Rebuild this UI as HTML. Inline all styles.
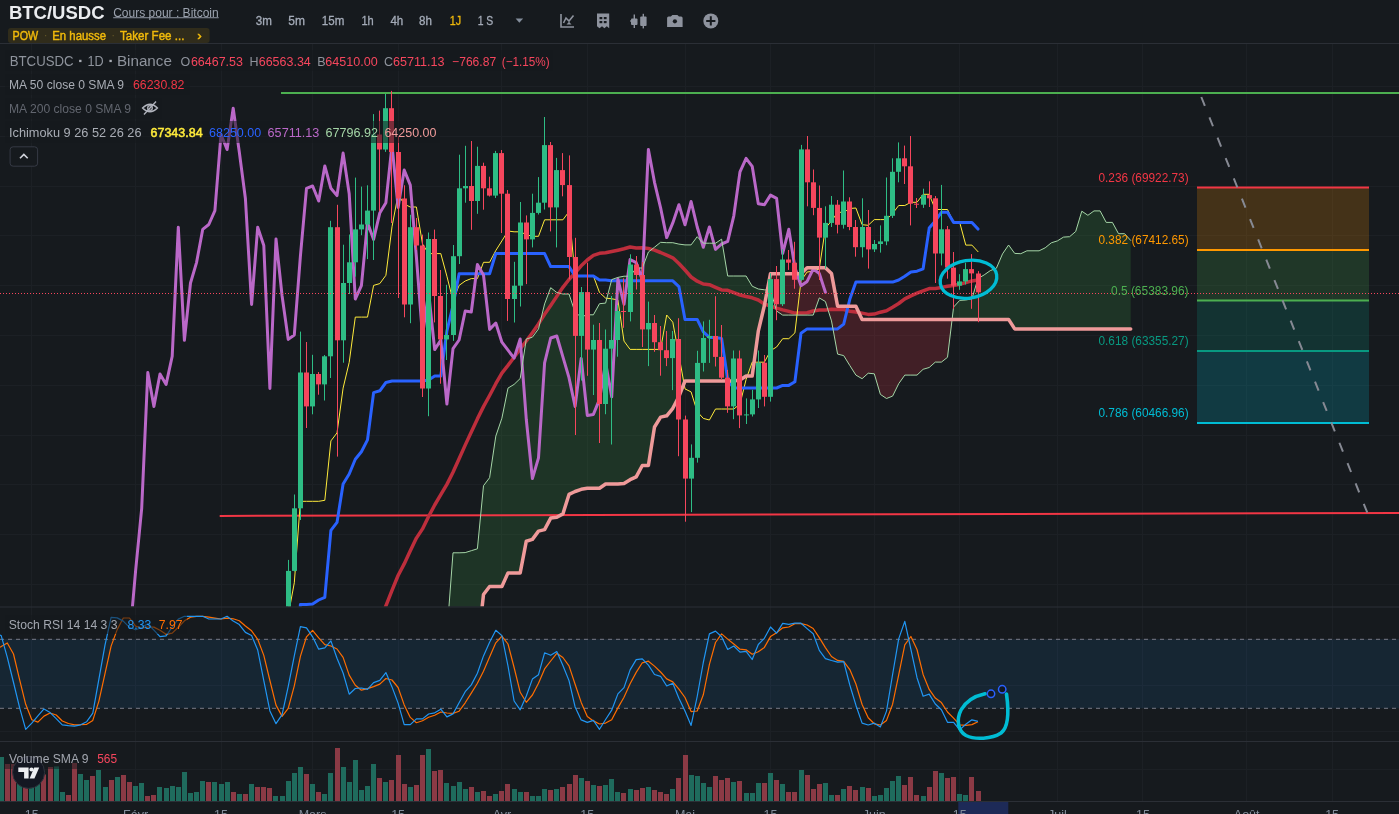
<!DOCTYPE html>
<html><head><meta charset="utf-8"><title>BTC/USDC</title>
<style>html,body{margin:0;padding:0;background:#161a1e;width:1399px;height:814px;overflow:hidden}svg{display:block}</style>
</head><body>
<svg width="1399" height="814" viewBox="0 0 1399 814" font-family="Liberation Sans, Arial, sans-serif">
<rect width="1399" height="814" fill="#161a1e"/>
<g stroke="#1c2025" stroke-width="1"><line x1="31.5" y1="44" x2="31.5" y2="801" /><line x1="135.5" y1="44" x2="135.5" y2="801" /><line x1="221.5" y1="44" x2="221.5" y2="801" /><line x1="312.5" y1="44" x2="312.5" y2="801" /><line x1="398.5" y1="44" x2="398.5" y2="801" /><line x1="501.5" y1="44" x2="501.5" y2="801" /><line x1="587.5" y1="44" x2="587.5" y2="801" /><line x1="685.5" y1="44" x2="685.5" y2="801" /><line x1="770.5" y1="44" x2="770.5" y2="801" /><line x1="874.5" y1="44" x2="874.5" y2="801" /><line x1="959.5" y1="44" x2="959.5" y2="801" /><line x1="1057.5" y1="44" x2="1057.5" y2="801" /><line x1="1142.5" y1="44" x2="1142.5" y2="801" /><line x1="1246.5" y1="44" x2="1246.5" y2="801" /><line x1="1332.5" y1="44" x2="1332.5" y2="801" /><line x1="0" y1="584.5" x2="1399" y2="584.5" /><line x1="0" y1="534.5" x2="1399" y2="534.5" /><line x1="0" y1="484.5" x2="1399" y2="484.5" /><line x1="0" y1="435.5" x2="1399" y2="435.5" /><line x1="0" y1="385.5" x2="1399" y2="385.5" /><line x1="0" y1="335.5" x2="1399" y2="335.5" /><line x1="0" y1="285.5" x2="1399" y2="285.5" /><line x1="0" y1="235.5" x2="1399" y2="235.5" /><line x1="0" y1="186.5" x2="1399" y2="186.5" /><line x1="0" y1="136.5" x2="1399" y2="136.5" /><line x1="0" y1="86.5" x2="1399" y2="86.5" /><line x1="0" y1="639.5" x2="1399" y2="639.5" /><line x1="0" y1="685.5" x2="1399" y2="685.5" /><line x1="0" y1="731.5" x2="1399" y2="731.5" /><line x1="0" y1="769.5" x2="1399" y2="769.5" /></g>
<defs><clipPath id="cm"><rect x="0" y="44" width="1399" height="562.5"/></clipPath><clipPath id="cs"><rect x="0" y="608" width="1399" height="133"/></clipPath><clipPath id="cv"><rect x="0" y="742" width="1399" height="59"/></clipPath></defs>
<g clip-path="url(#cm)">
<polygon points="410.3,710.4 416.4,703.1 422.5,694.2 428.6,693.7 434.7,693.7 440.8,669.1 446.9,634.3 453.0,552.8 459.1,552.8 465.2,552.6 471.3,550.7 477.4,548.8 483.5,485.7 489.6,477.7 495.8,436.1 501.9,418.2 508.0,388.1 514.1,384.4 520.2,378.5 526.3,339.0 532.4,337.2 538.5,328.9 544.6,303.9 550.7,287.7 556.8,292.5 562.9,294.0 569.0,294.0 575.1,312.5 581.2,316.8 587.3,314.8 593.4,314.8 599.5,303.7 605.6,303.1 611.7,279.6 617.9,277.4 624.0,276.2 630.1,276.2 636.2,268.0 642.3,268.0 648.4,252.0 654.5,247.2 660.6,242.3 666.7,242.7 672.8,242.7 678.9,244.1 685.0,244.9 691.1,244.9 697.2,236.7 703.3,243.2 709.4,243.2 715.5,243.2 721.6,239.2 727.7,276.0 733.8,276.0 740.0,276.0 746.1,276.0 752.2,286.2 758.3,289.0 764.4,289.8 767.3,290.1 767.3,290.1 764.4,305.5 758.3,331.2 752.2,376.0 746.1,376.0 740.0,380.0 733.8,381.0 727.7,381.0 721.6,381.0 715.5,381.0 709.4,381.0 703.3,381.0 697.2,381.0 691.1,381.0 685.0,381.0 678.9,396.5 672.8,408.3 666.7,415.8 660.6,417.1 654.5,427.0 648.4,465.5 642.3,465.5 636.2,476.9 630.1,479.7 624.0,483.5 617.9,484.0 611.7,484.0 605.6,484.0 599.5,488.3 593.4,488.3 587.3,488.3 581.2,489.3 575.1,491.5 569.0,494.4 562.9,513.9 556.8,517.3 550.7,518.1 544.6,529.6 538.5,531.1 532.4,539.4 526.3,541.2 520.2,572.9 514.1,572.9 508.0,572.9 501.9,586.5 495.8,586.5 489.6,586.5 483.5,594.5 477.4,649.9 471.3,649.9 465.2,649.9 459.1,649.9 453.0,649.9 446.9,731.4 440.8,764.1 434.7,788.7 428.6,788.7 422.5,788.7 416.4,788.7 410.3,788.7" fill="rgba(67,160,71,0.2)"/>
<polygon points="767.3,290.1 770.5,290.3 776.6,311.0 782.7,315.1 788.8,315.1 794.9,315.1 801.0,315.1 807.1,315.1 813.2,315.1 819.3,297.9 825.4,301.5 831.5,320.9 837.6,354.1 843.7,355.6 849.8,365.5 855.9,375.1 862.1,378.7 868.2,373.2 874.3,373.8 880.4,394.4 886.5,398.5 892.6,396.1 898.7,383.7 904.8,375.1 910.9,375.1 917.0,375.1 923.1,369.3 929.2,367.5 935.3,362.1 941.4,362.1 947.5,357.3 952.1,319.4 952.1,319.4 947.5,319.4 941.4,319.4 935.3,319.4 929.2,319.4 923.1,319.4 917.0,319.4 910.9,319.4 904.8,319.4 898.7,319.4 892.6,319.4 886.5,319.4 880.4,319.4 874.3,319.4 868.2,319.4 862.1,319.4 855.9,306.3 849.8,306.3 843.7,306.3 837.6,306.3 831.5,273.6 825.4,267.7 819.3,267.7 813.2,267.7 807.1,267.7 801.0,273.7 794.9,273.7 788.8,273.7 782.7,273.7 776.6,273.7 770.5,273.7 767.3,290.1" fill="rgba(242,54,69,0.2)"/>
<polygon points="952.1,319.4 953.6,307.0 959.7,300.4 965.8,300.0 971.9,298.8 978.0,278.5 984.2,274.9 990.3,270.6 996.4,268.2 1002.5,253.9 1008.6,245.0 1014.7,253.4 1020.8,253.7 1026.9,250.8 1033.0,250.8 1039.1,250.8 1045.2,247.8 1051.3,242.8 1057.4,240.9 1063.5,237.1 1069.6,236.7 1075.7,231.5 1081.8,211.2 1087.9,215.3 1094.0,210.9 1100.1,210.9 1106.2,222.4 1112.4,222.4 1118.5,233.7 1124.6,233.7 1130.7,240.4 1130.7,328.9 1124.6,328.9 1118.5,328.9 1112.4,328.9 1106.2,328.9 1100.1,328.9 1094.0,328.9 1087.9,328.9 1081.8,328.9 1075.7,328.9 1069.6,328.9 1063.5,328.9 1057.4,328.9 1051.3,328.9 1045.2,328.9 1039.1,328.9 1033.0,328.9 1026.9,328.9 1020.8,328.9 1014.7,328.9 1008.6,319.4 1002.5,319.4 996.4,319.4 990.3,319.4 984.2,319.4 978.0,319.4 971.9,319.4 965.8,319.4 959.7,319.4 953.6,319.4 952.1,319.4" fill="rgba(67,160,71,0.2)"/>
<rect x="1197" y="187.5" width="172" height="62.5" fill="rgba(255,152,0,0.2)"/>
<rect x="1197" y="250.0" width="172" height="50.5" fill="rgba(76,175,80,0.2)"/>
<rect x="1197" y="300.5" width="172" height="50.5" fill="rgba(8,153,129,0.2)"/>
<rect x="1197" y="351.0" width="172" height="71.9" fill="rgba(0,188,212,0.2)"/>
<line x1="1197" y1="187.5" x2="1369" y2="187.5" stroke="#f23645" stroke-width="2"/>
<line x1="1197" y1="250.0" x2="1369" y2="250.0" stroke="#ff9800" stroke-width="2"/>
<line x1="1197" y1="300.5" x2="1369" y2="300.5" stroke="#4caf50" stroke-width="2"/>
<line x1="1197" y1="351.0" x2="1369" y2="351.0" stroke="#089981" stroke-width="2"/>
<line x1="1197" y1="422.9" x2="1369" y2="422.9" stroke="#00bcd4" stroke-width="2"/>
<line x1="219.7" y1="515.9" x2="1399" y2="513.0" stroke="#f23645" stroke-width="2"/>
<line x1="281" y1="92.9" x2="1399" y2="92.9" stroke="#4caf50" stroke-width="2"/>
<polyline points="245.4,816.9 251.6,812.9 257.7,809.5 263.8,805.3 269.9,802.0 276.0,798.3 282.1,794.4 288.2,789.2 294.3,784.1 300.4,776.0 306.5,768.8 312.6,760.8 318.7,751.2 324.8,741.1 330.9,727.9 337.0,717.3 343.1,705.8 349.2,693.8 355.3,680.4 361.4,667.0 367.5,653.4 373.6,638.2 379.8,622.4 385.9,605.8 392.0,590.3 398.1,575.5 404.2,563.9 410.3,550.8 416.4,538.1 422.5,528.9 428.6,516.5 434.7,505.0 440.8,494.7 446.9,484.4 453.0,472.3 459.1,458.7 465.2,445.1 471.3,432.1 477.4,418.9 483.5,406.6 489.6,395.5 495.8,383.7 501.9,373.1 508.0,365.4 514.1,357.3 520.2,348.9 526.3,341.0 532.4,332.7 538.5,323.9 544.6,314.2 550.7,305.5 556.8,296.4 562.9,287.3 569.0,279.5 575.1,272.9 581.2,265.8 587.3,260.0 593.4,255.4 599.5,253.3 605.6,252.8 611.7,251.5 617.9,250.2 624.0,248.8 630.1,247.0 636.2,247.9 642.3,247.7 648.4,248.5 654.5,250.1 660.6,252.5 666.7,255.2 672.8,257.8 678.9,263.5 685.0,270.0 691.1,277.0 697.2,281.2 703.3,284.0 709.4,284.7 715.5,287.3 721.6,289.9 727.7,290.3 733.8,292.6 740.0,295.0 746.1,296.5 752.2,297.8 758.3,300.0 764.4,304.1 770.5,306.0 776.6,308.1 782.7,309.9 788.8,311.4 794.9,313.1 801.0,313.0 807.1,312.8 813.2,311.0 819.3,310.0 825.4,310.0 831.5,309.3 837.6,309.6 843.7,309.5 849.8,311.2 855.9,312.0 862.1,313.1 868.2,314.4 874.3,314.1 880.4,312.2 886.5,310.7 892.6,307.2 898.7,303.5 904.8,298.8 910.9,295.9 917.0,293.2 923.1,290.9 929.2,288.6 935.3,288.4 941.4,287.4 947.5,286.2 953.6,285.5 959.7,284.2 965.8,282.6 971.9,280.9 978.0,280.0" fill="none" stroke="#bd2e3c" stroke-width="3.5" stroke-linejoin="round" stroke-linecap="round" />
<polyline points="-4.9,824.9 1.2,824.9 7.3,811.4 13.5,802.1 19.6,802.1 25.7,802.1 31.8,802.1 37.9,802.1 44.0,802.1 50.1,812.3 56.2,817.3 62.3,848.0 68.4,884.4 74.5,894.7 80.6,905.8 86.7,905.8 92.8,910.5 98.9,913.9 105.0,922.6 111.1,915.0 117.2,909.1 123.3,902.1 129.5,902.1 135.6,890.6 141.7,889.7 147.8,886.4 153.9,866.8 160.0,864.0 166.1,861.7 172.2,854.6 178.3,839.2 184.4,807.0 190.5,802.7 196.6,798.0 202.7,776.2 208.8,775.2 214.9,750.6 221.0,738.1 227.1,726.7 233.2,726.7 239.3,688.2 245.4,678.2 251.6,674.9 257.7,667.4 263.8,655.6 269.9,640.0 276.0,640.0 282.1,640.0 288.2,615.5 294.3,582.8 300.4,501.3 306.5,501.3 312.6,501.3 318.7,501.3 324.8,500.3 330.9,440.9 337.0,432.9 343.1,388.1 349.2,362.4 355.3,317.1 361.4,317.1 367.5,317.1 373.6,285.4 379.8,283.6 385.9,275.3 392.0,226.8 398.1,194.4 404.2,204.1 410.3,207.0 416.4,207.0 422.5,244.0 428.6,253.6 434.7,253.6 440.8,253.6 446.9,276.2 453.0,300.7 459.1,285.4 465.2,281.0 471.3,278.6 477.4,278.6 483.5,262.3 489.6,262.3 495.8,250.5 501.9,240.9 508.0,231.0 514.1,231.8 520.2,231.8 526.3,234.6 532.4,236.3 538.5,236.3 544.6,219.8 550.7,219.8 556.8,219.8 562.9,219.8 569.0,211.7 575.1,276.0 581.2,276.0 587.3,276.0 593.4,276.0 599.5,292.5 605.6,298.1 611.7,298.8 617.9,299.9 624.0,341.1 630.1,349.4 636.2,349.4 642.3,349.4 648.4,349.4 654.5,349.4 660.6,349.4 666.7,315.0 672.8,322.2 678.9,355.2 685.0,388.9 691.1,391.9 697.2,411.6 703.3,418.4 709.4,420.0 715.5,409.0 721.6,409.0 727.7,409.0 733.8,409.0 740.0,404.1 746.1,379.4 752.2,362.2 758.3,362.2 764.4,362.2 770.5,350.7 776.6,347.0 782.7,338.7 788.8,338.7 794.9,332.9 801.0,280.7 807.1,272.0 813.2,271.2 819.3,268.8 825.4,228.1 831.5,221.0 837.6,212.3 843.7,212.3 849.8,208.5 855.9,208.0 862.1,224.7 868.2,225.3 874.3,219.6 880.4,219.6 886.5,219.6 892.6,213.5 898.7,205.5 904.8,205.5 910.9,202.3 917.0,202.3 923.1,194.3 929.2,194.3 935.3,209.5 941.4,209.5 947.5,209.5 953.6,222.4 959.7,222.4 965.8,245.1 971.9,245.1 978.0,251.7" fill="none" stroke="#ffeb3b" stroke-width="1" stroke-linejoin="round" stroke-linecap="round" />
<polyline points="98.9,838.7 105.0,838.7 111.1,838.7 117.2,838.7 123.3,838.7 129.5,838.7 135.6,838.7 141.7,838.7 147.8,838.7 153.9,838.7 160.0,838.7 166.1,869.4 172.2,896.0 178.3,880.5 184.4,848.3 190.5,848.3 196.6,843.6 202.7,821.8 208.8,821.3 214.9,800.5 221.0,790.8 227.1,790.8 233.2,790.8 239.3,779.3 245.4,778.5 251.6,773.0 257.7,753.4 263.8,750.6 269.9,748.3 276.0,747.3 282.1,747.3 288.2,722.8 294.3,685.8 300.4,604.4 306.5,604.4 312.6,603.9 318.7,600.0 324.8,597.3 330.9,530.4 337.0,522.4 343.1,484.0 349.2,474.0 355.3,459.2 361.4,451.7 367.5,439.9 373.6,392.6 379.8,390.8 385.9,382.5 392.0,381.0 398.1,381.0 404.2,381.0 410.3,381.0 416.4,381.0 422.5,381.0 428.6,380.0 434.7,376.0 440.8,376.0 446.9,331.2 453.0,305.5 459.1,273.7 465.2,273.7 471.3,273.7 477.4,273.7 483.5,273.7 489.6,273.7 495.8,253.6 501.9,253.6 508.0,253.6 514.1,253.6 520.2,253.6 526.3,253.6 532.4,253.6 538.5,253.6 544.6,253.6 550.7,266.6 556.8,266.6 562.9,266.6 569.0,266.6 575.1,276.0 581.2,276.0 587.3,276.0 593.4,276.0 599.5,280.0 605.6,280.0 611.7,280.8 617.9,280.8 624.0,280.8 630.1,280.8 636.2,280.8 642.3,280.8 648.4,280.8 654.5,280.8 660.6,280.8 666.7,280.8 672.8,280.8 678.9,286.6 685.0,319.4 691.1,319.4 697.2,319.4 703.3,331.8 709.4,337.4 715.5,337.4 721.6,338.5 727.7,379.8 733.8,388.0 740.0,388.0 746.1,388.0 752.2,388.0 758.3,388.0 764.4,388.0 770.5,388.0 776.6,388.0 782.7,385.4 788.8,385.4 794.9,381.8 801.0,333.3 807.1,328.9 813.2,328.9 819.3,328.9 825.4,328.9 831.5,328.9 837.6,328.9 843.7,324.1 849.8,299.3 855.9,282.1 862.1,282.1 868.2,282.1 874.3,282.1 880.4,282.1 886.5,282.1 892.6,282.1 898.7,280.0 904.8,276.3 910.9,272.0 917.0,271.2 923.1,268.8 929.2,228.1 935.3,221.0 941.4,212.3 947.5,212.3 953.6,222.4 959.7,222.4 965.8,222.4 971.9,222.4 978.0,229.1" fill="none" stroke="#2962ff" stroke-width="3" stroke-linejoin="round" stroke-linecap="round" />
<polyline points="-206.3,828.4 -200.2,808.9 -194.1,861.5 -188.0,829.1 -181.9,828.9 -175.8,833.6 -169.7,834.6 -163.6,758.9 -157.5,780.1 -151.4,766.6 -145.3,774.6 -139.2,863.2 -133.1,861.7 -127.0,889.4 -120.9,869.9 -114.8,854.0 -108.6,864.2 -102.5,901.1 -96.4,892.1 -90.3,891.1 -84.2,893.1 -78.1,943.1 -72.0,934.9 -65.9,930.4 -59.8,933.9 -53.7,887.1 -47.6,879.6 -41.5,881.9 -35.4,850.3 -29.3,859.0 -23.2,868.2 -17.1,855.7 -11.0,853.0 -4.9,857.7 1.2,868.2 7.3,865.0 13.5,855.5 19.6,824.4 25.7,800.7 31.8,754.9 37.9,739.0 44.0,726.0 50.1,684.5 56.2,690.9 62.3,638.7 68.4,635.7 74.5,630.5 80.6,642.6 86.7,630.2 92.8,639.2 98.9,627.2 105.0,637.7 111.1,651.1 117.2,665.3 123.3,644.4 129.5,640.4 135.6,570.9 141.7,508.3 147.8,372.5 153.9,406.4 160.0,374.0 166.1,384.4 172.2,356.3 178.3,227.2 184.4,340.3 190.5,283.0 196.6,262.3 202.7,229.4 208.8,224.5 214.9,210.6 221.0,134.5 227.1,149.5 233.2,108.2 239.3,152.0 245.4,198.5 251.6,304.5 257.7,227.2 263.8,245.5 269.9,388.5 276.0,239.0 282.1,296.0 288.2,339.4 294.3,335.0 300.4,256.2 306.5,188.3 312.6,186.0 318.7,201.0 324.8,165.9 330.9,188.3 337.0,195.6 343.1,153.1 349.2,193.7 355.3,299.0 361.4,285.7 367.5,222.5 373.6,239.4 379.8,212.9 385.9,202.7 392.0,145.1 398.1,207.4 404.2,170.1 410.3,185.1 416.4,257.0 422.5,335.9 428.6,292.1 434.7,349.6 440.8,340.0 446.9,404.0 453.0,348.7 459.1,340.0 465.2,311.0 471.3,312.0 477.4,264.5 483.5,275.0 489.6,329.4 495.8,323.0 501.9,342.2 508.0,350.2 514.1,358.1 520.2,339.0 526.3,419.5 532.4,478.6 538.5,457.8 544.6,362.9 550.7,338.0 556.8,336.0 562.9,356.9 569.0,377.7 575.1,406.4 581.2,358.5 587.3,415.4 593.4,414.4 599.5,399.4 605.6,362.7 611.7,396.8 617.9,279.1 624.0,304.2 630.1,259.5 636.2,262.7 642.3,279.8 648.4,149.4 654.5,182.3 660.6,207.9 666.7,237.6 672.8,222.9 678.9,204.7 685.0,224.8 691.1,201.5 697.2,227.0 703.3,247.2 709.4,227.0 715.5,249.4 721.6,244.0 727.7,241.4 733.8,215.8 740.0,171.8 746.1,158.3 752.2,166.3 758.3,203.7 764.4,204.7 770.5,195.1 776.6,198.3 782.7,253.5 788.8,229.3 794.9,267.6 801.0,285.7 807.1,281.4 813.2,269.1 819.3,273.4 825.4,292.3" fill="none" stroke="#ba68c8" stroke-width="3" stroke-linejoin="round" stroke-linecap="round" />
<polyline points="251.6,876.3 257.7,880.6 263.8,876.8 269.9,873.9 276.0,870.4 282.1,870.4 288.2,864.6 294.3,864.2 300.4,862.5 306.5,852.8 312.6,851.3 318.7,865.6 324.8,875.3 330.9,859.9 337.0,827.6 343.1,825.5 349.2,820.8 355.3,799.0 361.4,798.2 367.5,775.5 373.6,764.4 379.8,758.7 385.9,758.7 392.0,733.8 398.1,728.3 404.2,723.9 410.3,710.4 416.4,703.1 422.5,694.2 428.6,693.7 434.7,693.7 440.8,669.1 446.9,634.3 453.0,552.8 459.1,552.8 465.2,552.6 471.3,550.7 477.4,548.8 483.5,485.7 489.6,477.7 495.8,436.1 501.9,418.2 508.0,388.1 514.1,384.4 520.2,378.5 526.3,339.0 532.4,337.2 538.5,328.9 544.6,303.9 550.7,287.7 556.8,292.5 562.9,294.0 569.0,294.0 575.1,312.5 581.2,316.8 587.3,314.8 593.4,314.8 599.5,303.7 605.6,303.1 611.7,279.6 617.9,277.4 624.0,276.2 630.1,276.2 636.2,268.0 642.3,268.0 648.4,252.0 654.5,247.2 660.6,242.3 666.7,242.7 672.8,242.7 678.9,244.1 685.0,244.9 691.1,244.9 697.2,236.7 703.3,243.2 709.4,243.2 715.5,243.2 721.6,239.2 727.7,276.0 733.8,276.0 740.0,276.0 746.1,276.0 752.2,286.2 758.3,289.0 764.4,289.8 770.5,290.3 776.6,311.0 782.7,315.1 788.8,315.1 794.9,315.1 801.0,315.1 807.1,315.1 813.2,315.1 819.3,297.9 825.4,301.5 831.5,320.9 837.6,354.1 843.7,355.6 849.8,365.5 855.9,375.1 862.1,378.7 868.2,373.2 874.3,373.8 880.4,394.4 886.5,398.5 892.6,396.1 898.7,383.7 904.8,375.1 910.9,375.1 917.0,375.1 923.1,369.3 929.2,367.5 935.3,362.1 941.4,362.1 947.5,357.3 953.6,307.0 959.7,300.4 965.8,300.0 971.9,298.8 978.0,278.5 984.2,274.9 990.3,270.6 996.4,268.2 1002.5,253.9 1008.6,245.0 1014.7,253.4 1020.8,253.7 1026.9,250.8 1033.0,250.8 1039.1,250.8 1045.2,247.8 1051.3,242.8 1057.4,240.9 1063.5,237.1 1069.6,236.7 1075.7,231.5 1081.8,211.2 1087.9,215.3 1094.0,210.9 1100.1,210.9 1106.2,222.4 1112.4,222.4 1118.5,233.7 1124.6,233.7 1130.7,240.4" fill="none" stroke="#a5d6a7" stroke-width="1" stroke-linejoin="round" stroke-linecap="round" />
<polyline points="410.3,788.7 416.4,788.7 422.5,788.7 428.6,788.7 434.7,788.7 440.8,764.1 446.9,731.4 453.0,649.9 459.1,649.9 465.2,649.9 471.3,649.9 477.4,649.9 483.5,594.5 489.6,586.5 495.8,586.5 501.9,586.5 508.0,572.9 514.1,572.9 520.2,572.9 526.3,541.2 532.4,539.4 538.5,531.1 544.6,529.6 550.7,518.1 556.8,517.3 562.9,513.9 569.0,494.4 575.1,491.5 581.2,489.3 587.3,488.3 593.4,488.3 599.5,488.3 605.6,484.0 611.7,484.0 617.9,484.0 624.0,483.5 630.1,479.7 636.2,476.9 642.3,465.5 648.4,465.5 654.5,427.0 660.6,417.1 666.7,415.8 672.8,408.3 678.9,396.5 685.0,381.0 691.1,381.0 697.2,381.0 703.3,381.0 709.4,381.0 715.5,381.0 721.6,381.0 727.7,381.0 733.8,381.0 740.0,380.0 746.1,376.0 752.2,376.0 758.3,331.2 764.4,305.5 770.5,273.7 776.6,273.7 782.7,273.7 788.8,273.7 794.9,273.7 801.0,273.7 807.1,267.7 813.2,267.7 819.3,267.7 825.4,267.7 831.5,273.6 837.6,306.3 843.7,306.3 849.8,306.3 855.9,306.3 862.1,319.4 868.2,319.4 874.3,319.4 880.4,319.4 886.5,319.4 892.6,319.4 898.7,319.4 904.8,319.4 910.9,319.4 917.0,319.4 923.1,319.4 929.2,319.4 935.3,319.4 941.4,319.4 947.5,319.4 953.6,319.4 959.7,319.4 965.8,319.4 971.9,319.4 978.0,319.4 984.2,319.4 990.3,319.4 996.4,319.4 1002.5,319.4 1008.6,319.4 1014.7,328.9 1020.8,328.9 1026.9,328.9 1033.0,328.9 1039.1,328.9 1045.2,328.9 1051.3,328.9 1057.4,328.9 1063.5,328.9 1069.6,328.9 1075.7,328.9 1081.8,328.9 1087.9,328.9 1094.0,328.9 1100.1,328.9 1106.2,328.9 1112.4,328.9 1118.5,328.9 1124.6,328.9 1130.7,328.9" fill="none" stroke="#ef9a9a" stroke-width="3.5" stroke-linejoin="round" stroke-linecap="round" />
<rect x="-54" y="828.37" width="1" height="49.29" fill="#2ebd85"/>
<rect x="-56" y="828.37" width="5" height="47.30" fill="#2ebd85"/>
<rect x="-48" y="786.04" width="1" height="43.07" fill="#2ebd85"/>
<rect x="-50" y="808.95" width="5" height="19.42" fill="#2ebd85"/>
<rect x="-42" y="795.50" width="1" height="118.25" fill="#f6465d"/>
<rect x="-44" y="808.95" width="5" height="52.53" fill="#f6465d"/>
<rect x="-36" y="814.67" width="1" height="52.53" fill="#2ebd85"/>
<rect x="-38" y="829.11" width="5" height="32.36" fill="#2ebd85"/>
<rect x="-30" y="824.38" width="1" height="45.81" fill="#2ebd85"/>
<rect x="-32" y="828.86" width="5" height="1.00" fill="#2ebd85"/>
<rect x="-24" y="827.12" width="1" height="20.66" fill="#f6465d"/>
<rect x="-26" y="828.86" width="5" height="4.73" fill="#f6465d"/>
<rect x="-18" y="820.40" width="1" height="23.15" fill="#f6465d"/>
<rect x="-20" y="833.59" width="5" height="1.00" fill="#f6465d"/>
<rect x="-11" y="751.94" width="1" height="100.82" fill="#2ebd85"/>
<rect x="-13" y="758.91" width="5" height="75.68" fill="#2ebd85"/>
<rect x="-5" y="736.00" width="1" height="89.37" fill="#f6465d"/>
<rect x="-7" y="758.91" width="5" height="21.16" fill="#f6465d"/>
<rect x="1" y="740.73" width="1" height="83.40" fill="#2ebd85"/>
<rect x="-1" y="766.63" width="5" height="13.44" fill="#2ebd85"/>
<rect x="7" y="709.12" width="1" height="83.90" fill="#f6465d"/>
<rect x="5" y="766.63" width="5" height="7.97" fill="#f6465d"/>
<rect x="13" y="770.61" width="1" height="124.48" fill="#f6465d"/>
<rect x="11" y="774.59" width="5" height="88.63" fill="#f6465d"/>
<rect x="19" y="851.27" width="1" height="20.41" fill="#2ebd85"/>
<rect x="17" y="861.72" width="5" height="1.49" fill="#2ebd85"/>
<rect x="25" y="856.00" width="1" height="33.61" fill="#f6465d"/>
<rect x="23" y="861.72" width="5" height="27.63" fill="#f6465d"/>
<rect x="31" y="847.78" width="1" height="42.32" fill="#2ebd85"/>
<rect x="29" y="869.94" width="5" height="19.42" fill="#2ebd85"/>
<rect x="37" y="843.30" width="1" height="38.09" fill="#2ebd85"/>
<rect x="35" y="854.01" width="5" height="15.93" fill="#2ebd85"/>
<rect x="43" y="852.76" width="1" height="24.89" fill="#f6465d"/>
<rect x="41" y="854.01" width="5" height="10.21" fill="#f6465d"/>
<rect x="50" y="859.48" width="1" height="56.01" fill="#f6465d"/>
<rect x="48" y="864.21" width="5" height="36.84" fill="#f6465d"/>
<rect x="56" y="877.66" width="1" height="47.80" fill="#2ebd85"/>
<rect x="54" y="892.10" width="5" height="8.96" fill="#2ebd85"/>
<rect x="62" y="885.87" width="1" height="10.46" fill="#2ebd85"/>
<rect x="60" y="891.10" width="5" height="1.00" fill="#2ebd85"/>
<rect x="68" y="886.12" width="1" height="8.96" fill="#f6465d"/>
<rect x="66" y="891.10" width="5" height="1.99" fill="#f6465d"/>
<rect x="74" y="890.85" width="1" height="55.27" fill="#f6465d"/>
<rect x="72" y="893.09" width="5" height="50.04" fill="#f6465d"/>
<rect x="80" y="929.19" width="1" height="39.09" fill="#2ebd85"/>
<rect x="78" y="934.92" width="5" height="8.22" fill="#2ebd85"/>
<rect x="86" y="919.98" width="1" height="25.39" fill="#2ebd85"/>
<rect x="84" y="930.43" width="5" height="4.48" fill="#2ebd85"/>
<rect x="92" y="924.96" width="1" height="18.67" fill="#f6465d"/>
<rect x="90" y="930.43" width="5" height="3.49" fill="#f6465d"/>
<rect x="98" y="876.91" width="1" height="60.00" fill="#2ebd85"/>
<rect x="96" y="887.12" width="5" height="46.80" fill="#2ebd85"/>
<rect x="105" y="877.66" width="1" height="20.16" fill="#2ebd85"/>
<rect x="103" y="879.65" width="5" height="7.47" fill="#2ebd85"/>
<rect x="111" y="861.72" width="1" height="30.37" fill="#f6465d"/>
<rect x="109" y="879.65" width="5" height="2.24" fill="#f6465d"/>
<rect x="117" y="850.02" width="1" height="37.59" fill="#2ebd85"/>
<rect x="115" y="850.27" width="5" height="31.62" fill="#2ebd85"/>
<rect x="123" y="835.83" width="1" height="29.87" fill="#f6465d"/>
<rect x="121" y="850.27" width="5" height="8.71" fill="#f6465d"/>
<rect x="129" y="839.32" width="1" height="36.35" fill="#f6465d"/>
<rect x="127" y="858.99" width="5" height="9.21" fill="#f6465d"/>
<rect x="135" y="850.52" width="1" height="35.10" fill="#2ebd85"/>
<rect x="133" y="855.75" width="5" height="12.45" fill="#2ebd85"/>
<rect x="141" y="845.54" width="1" height="23.15" fill="#2ebd85"/>
<rect x="139" y="853.01" width="5" height="2.74" fill="#2ebd85"/>
<rect x="147" y="848.28" width="1" height="12.45" fill="#f6465d"/>
<rect x="145" y="853.01" width="5" height="4.73" fill="#f6465d"/>
<rect x="153" y="854.75" width="1" height="22.41" fill="#f6465d"/>
<rect x="151" y="857.74" width="5" height="10.46" fill="#f6465d"/>
<rect x="159" y="844.30" width="1" height="31.87" fill="#2ebd85"/>
<rect x="157" y="864.96" width="5" height="3.24" fill="#2ebd85"/>
<rect x="166" y="847.78" width="1" height="20.66" fill="#2ebd85"/>
<rect x="164" y="855.50" width="5" height="9.46" fill="#2ebd85"/>
<rect x="172" y="823.64" width="1" height="39.33" fill="#2ebd85"/>
<rect x="170" y="824.38" width="5" height="31.12" fill="#2ebd85"/>
<rect x="178" y="792.77" width="1" height="31.87" fill="#2ebd85"/>
<rect x="176" y="800.73" width="5" height="23.65" fill="#2ebd85"/>
<rect x="184" y="728.29" width="1" height="111.80" fill="#2ebd85"/>
<rect x="182" y="754.93" width="5" height="45.81" fill="#2ebd85"/>
<rect x="190" y="729.03" width="1" height="34.11" fill="#2ebd85"/>
<rect x="188" y="738.99" width="5" height="15.93" fill="#2ebd85"/>
<rect x="196" y="718.83" width="1" height="24.40" fill="#2ebd85"/>
<rect x="194" y="726.05" width="5" height="12.95" fill="#2ebd85"/>
<rect x="202" y="675.26" width="1" height="65.47" fill="#2ebd85"/>
<rect x="200" y="684.47" width="5" height="41.57" fill="#2ebd85"/>
<rect x="208" y="674.27" width="1" height="51.53" fill="#f6465d"/>
<rect x="206" y="684.47" width="5" height="6.47" fill="#f6465d"/>
<rect x="214" y="632.69" width="1" height="69.46" fill="#2ebd85"/>
<rect x="212" y="638.67" width="5" height="52.28" fill="#2ebd85"/>
<rect x="221" y="613.27" width="1" height="37.34" fill="#2ebd85"/>
<rect x="219" y="635.68" width="5" height="2.99" fill="#2ebd85"/>
<rect x="227" y="619.50" width="1" height="24.65" fill="#2ebd85"/>
<rect x="225" y="630.45" width="5" height="5.23" fill="#2ebd85"/>
<rect x="233" y="628.96" width="1" height="39.09" fill="#f6465d"/>
<rect x="231" y="630.45" width="5" height="12.20" fill="#f6465d"/>
<rect x="239" y="624.72" width="1" height="29.63" fill="#2ebd85"/>
<rect x="237" y="630.20" width="5" height="12.45" fill="#2ebd85"/>
<rect x="245" y="621.49" width="1" height="20.16" fill="#f6465d"/>
<rect x="243" y="630.20" width="5" height="8.96" fill="#f6465d"/>
<rect x="251" y="609.04" width="1" height="61.49" fill="#2ebd85"/>
<rect x="249" y="627.21" width="5" height="11.95" fill="#2ebd85"/>
<rect x="257" y="624.48" width="1" height="43.32" fill="#f6465d"/>
<rect x="255" y="627.21" width="5" height="10.46" fill="#f6465d"/>
<rect x="263" y="633.19" width="1" height="27.14" fill="#f6465d"/>
<rect x="261" y="637.67" width="5" height="13.44" fill="#f6465d"/>
<rect x="269" y="644.89" width="1" height="26.14" fill="#f6465d"/>
<rect x="267" y="651.11" width="5" height="14.19" fill="#f6465d"/>
<rect x="275" y="641.15" width="1" height="27.88" fill="#2ebd85"/>
<rect x="273" y="644.39" width="5" height="20.91" fill="#2ebd85"/>
<rect x="282" y="634.93" width="1" height="16.68" fill="#2ebd85"/>
<rect x="280" y="640.41" width="5" height="3.98" fill="#2ebd85"/>
<rect x="288" y="559.90" width="1" height="101.17" fill="#2ebd85"/>
<rect x="286" y="570.90" width="5" height="69.10" fill="#2ebd85"/>
<rect x="294" y="494.50" width="1" height="77.00" fill="#2ebd85"/>
<rect x="292" y="508.30" width="5" height="62.60" fill="#2ebd85"/>
<rect x="300" y="331.60" width="1" height="188.40" fill="#2ebd85"/>
<rect x="298" y="372.50" width="5" height="135.80" fill="#2ebd85"/>
<rect x="306" y="342.00" width="1" height="86.00" fill="#f6465d"/>
<rect x="304" y="372.50" width="5" height="33.90" fill="#f6465d"/>
<rect x="312" y="354.80" width="1" height="59.50" fill="#2ebd85"/>
<rect x="310" y="374.00" width="5" height="32.40" fill="#2ebd85"/>
<rect x="318" y="372.00" width="1" height="22.70" fill="#f6465d"/>
<rect x="316" y="374.00" width="5" height="10.40" fill="#f6465d"/>
<rect x="324" y="355.00" width="1" height="45.50" fill="#2ebd85"/>
<rect x="322" y="356.30" width="5" height="28.10" fill="#2ebd85"/>
<rect x="330" y="220.80" width="1" height="157.20" fill="#2ebd85"/>
<rect x="328" y="227.20" width="5" height="129.10" fill="#2ebd85"/>
<rect x="337" y="204.80" width="1" height="251.80" fill="#f6465d"/>
<rect x="335" y="227.20" width="5" height="113.10" fill="#f6465d"/>
<rect x="343" y="244.70" width="1" height="118.00" fill="#2ebd85"/>
<rect x="341" y="283.00" width="5" height="57.30" fill="#2ebd85"/>
<rect x="349" y="234.50" width="1" height="59.50" fill="#2ebd85"/>
<rect x="347" y="262.30" width="5" height="20.70" fill="#2ebd85"/>
<rect x="355" y="177.60" width="1" height="99.10" fill="#2ebd85"/>
<rect x="353" y="229.40" width="5" height="32.90" fill="#2ebd85"/>
<rect x="361" y="186.60" width="1" height="48.60" fill="#2ebd85"/>
<rect x="359" y="224.50" width="5" height="4.90" fill="#2ebd85"/>
<rect x="367" y="185.30" width="1" height="73.80" fill="#2ebd85"/>
<rect x="365" y="210.60" width="5" height="13.90" fill="#2ebd85"/>
<rect x="373" y="114.10" width="1" height="145.90" fill="#2ebd85"/>
<rect x="371" y="134.50" width="5" height="76.10" fill="#2ebd85"/>
<rect x="379" y="110.60" width="1" height="100.40" fill="#f6465d"/>
<rect x="377" y="134.50" width="5" height="15.00" fill="#f6465d"/>
<rect x="385" y="93.90" width="1" height="58.00" fill="#2ebd85"/>
<rect x="383" y="108.20" width="5" height="41.30" fill="#2ebd85"/>
<rect x="391" y="90.90" width="1" height="132.10" fill="#f6465d"/>
<rect x="389" y="108.20" width="5" height="43.80" fill="#f6465d"/>
<rect x="398" y="136.20" width="1" height="161.80" fill="#f6465d"/>
<rect x="396" y="152.00" width="5" height="46.50" fill="#f6465d"/>
<rect x="404" y="185.30" width="1" height="132.00" fill="#f6465d"/>
<rect x="402" y="198.50" width="5" height="106.00" fill="#f6465d"/>
<rect x="410" y="214.80" width="1" height="108.40" fill="#2ebd85"/>
<rect x="408" y="227.20" width="5" height="77.30" fill="#2ebd85"/>
<rect x="416" y="218.00" width="1" height="32.00" fill="#f6465d"/>
<rect x="414" y="227.20" width="5" height="18.30" fill="#f6465d"/>
<rect x="422" y="234.60" width="1" height="162.40" fill="#f6465d"/>
<rect x="420" y="245.50" width="5" height="143.00" fill="#f6465d"/>
<rect x="428" y="232.50" width="1" height="183.70" fill="#2ebd85"/>
<rect x="426" y="239.00" width="5" height="149.50" fill="#2ebd85"/>
<rect x="434" y="229.60" width="1" height="92.80" fill="#f6465d"/>
<rect x="432" y="239.00" width="5" height="57.00" fill="#f6465d"/>
<rect x="440" y="270.00" width="1" height="113.70" fill="#f6465d"/>
<rect x="438" y="296.00" width="5" height="43.40" fill="#f6465d"/>
<rect x="446" y="284.80" width="1" height="75.20" fill="#2ebd85"/>
<rect x="444" y="335.00" width="5" height="4.40" fill="#2ebd85"/>
<rect x="453" y="245.00" width="1" height="95.90" fill="#2ebd85"/>
<rect x="451" y="256.20" width="5" height="78.80" fill="#2ebd85"/>
<rect x="459" y="154.70" width="1" height="109.30" fill="#2ebd85"/>
<rect x="457" y="188.30" width="5" height="67.90" fill="#2ebd85"/>
<rect x="465" y="145.80" width="1" height="56.90" fill="#2ebd85"/>
<rect x="463" y="186.00" width="5" height="2.30" fill="#2ebd85"/>
<rect x="471" y="141.00" width="1" height="88.80" fill="#f6465d"/>
<rect x="469" y="186.00" width="5" height="15.00" fill="#f6465d"/>
<rect x="477" y="146.70" width="1" height="67.10" fill="#2ebd85"/>
<rect x="475" y="165.90" width="5" height="35.10" fill="#2ebd85"/>
<rect x="483" y="162.70" width="1" height="47.00" fill="#f6465d"/>
<rect x="481" y="165.90" width="5" height="22.40" fill="#f6465d"/>
<rect x="489" y="176.70" width="1" height="19.80" fill="#f6465d"/>
<rect x="487" y="188.30" width="5" height="7.30" fill="#f6465d"/>
<rect x="495" y="150.90" width="1" height="47.10" fill="#2ebd85"/>
<rect x="493" y="153.10" width="5" height="42.50" fill="#2ebd85"/>
<rect x="501" y="150.00" width="1" height="83.00" fill="#f6465d"/>
<rect x="499" y="153.10" width="5" height="40.60" fill="#f6465d"/>
<rect x="507" y="190.00" width="1" height="130.90" fill="#f6465d"/>
<rect x="505" y="193.70" width="5" height="105.30" fill="#f6465d"/>
<rect x="514" y="261.80" width="1" height="60.70" fill="#2ebd85"/>
<rect x="512" y="285.70" width="5" height="13.30" fill="#2ebd85"/>
<rect x="520" y="202.00" width="1" height="104.50" fill="#2ebd85"/>
<rect x="518" y="222.50" width="5" height="63.20" fill="#2ebd85"/>
<rect x="526" y="215.40" width="1" height="68.70" fill="#f6465d"/>
<rect x="524" y="222.50" width="5" height="16.90" fill="#f6465d"/>
<rect x="532" y="193.70" width="1" height="53.70" fill="#2ebd85"/>
<rect x="530" y="212.90" width="5" height="26.50" fill="#2ebd85"/>
<rect x="538" y="177.10" width="1" height="37.40" fill="#2ebd85"/>
<rect x="536" y="202.70" width="5" height="10.20" fill="#2ebd85"/>
<rect x="544" y="117.00" width="1" height="92.50" fill="#2ebd85"/>
<rect x="542" y="145.10" width="5" height="57.60" fill="#2ebd85"/>
<rect x="550" y="142.00" width="1" height="89.40" fill="#f6465d"/>
<rect x="548" y="145.10" width="5" height="62.30" fill="#f6465d"/>
<rect x="556" y="157.90" width="1" height="89.50" fill="#2ebd85"/>
<rect x="554" y="170.10" width="5" height="37.30" fill="#2ebd85"/>
<rect x="562" y="153.10" width="1" height="43.20" fill="#f6465d"/>
<rect x="560" y="170.10" width="5" height="15.00" fill="#f6465d"/>
<rect x="569" y="155.40" width="1" height="123.90" fill="#f6465d"/>
<rect x="567" y="185.10" width="5" height="71.90" fill="#f6465d"/>
<rect x="575" y="237.80" width="1" height="197.20" fill="#f6465d"/>
<rect x="573" y="257.00" width="5" height="78.90" fill="#f6465d"/>
<rect x="581" y="287.00" width="1" height="93.60" fill="#2ebd85"/>
<rect x="579" y="292.10" width="5" height="43.80" fill="#2ebd85"/>
<rect x="587" y="262.70" width="1" height="113.10" fill="#f6465d"/>
<rect x="585" y="292.10" width="5" height="57.50" fill="#f6465d"/>
<rect x="593" y="324.70" width="1" height="70.30" fill="#2ebd85"/>
<rect x="591" y="340.00" width="5" height="9.60" fill="#2ebd85"/>
<rect x="599" y="323.00" width="1" height="120.00" fill="#f6465d"/>
<rect x="597" y="340.00" width="5" height="64.00" fill="#f6465d"/>
<rect x="605" y="329.50" width="1" height="84.70" fill="#2ebd85"/>
<rect x="603" y="348.70" width="5" height="55.30" fill="#2ebd85"/>
<rect x="611" y="296.00" width="1" height="148.50" fill="#2ebd85"/>
<rect x="609" y="340.00" width="5" height="8.70" fill="#2ebd85"/>
<rect x="617" y="305.00" width="1" height="51.70" fill="#2ebd85"/>
<rect x="615" y="311.00" width="5" height="29.00" fill="#2ebd85"/>
<rect x="623" y="278.30" width="1" height="49.50" fill="#f6465d"/>
<rect x="621" y="311.00" width="5" height="1.00" fill="#f6465d"/>
<rect x="630" y="254.30" width="1" height="67.10" fill="#2ebd85"/>
<rect x="628" y="264.50" width="5" height="47.50" fill="#2ebd85"/>
<rect x="636" y="256.00" width="1" height="33.50" fill="#f6465d"/>
<rect x="634" y="264.50" width="5" height="10.50" fill="#f6465d"/>
<rect x="642" y="262.00" width="1" height="85.00" fill="#f6465d"/>
<rect x="640" y="275.00" width="5" height="54.40" fill="#f6465d"/>
<rect x="648" y="301.60" width="1" height="64.50" fill="#2ebd85"/>
<rect x="646" y="323.00" width="5" height="6.40" fill="#2ebd85"/>
<rect x="654" y="315.00" width="1" height="36.80" fill="#f6465d"/>
<rect x="652" y="323.00" width="5" height="19.20" fill="#f6465d"/>
<rect x="660" y="326.00" width="1" height="49.70" fill="#f6465d"/>
<rect x="658" y="342.20" width="5" height="8.00" fill="#f6465d"/>
<rect x="666" y="331.00" width="1" height="35.10" fill="#f6465d"/>
<rect x="664" y="350.20" width="5" height="7.90" fill="#f6465d"/>
<rect x="672" y="331.00" width="1" height="59.10" fill="#2ebd85"/>
<rect x="670" y="339.00" width="5" height="19.10" fill="#2ebd85"/>
<rect x="678" y="318.20" width="1" height="138.00" fill="#f6465d"/>
<rect x="676" y="339.00" width="5" height="80.50" fill="#f6465d"/>
<rect x="685" y="415.60" width="1" height="106.10" fill="#f6465d"/>
<rect x="683" y="419.50" width="5" height="59.10" fill="#f6465d"/>
<rect x="691" y="444.40" width="1" height="67.70" fill="#2ebd85"/>
<rect x="689" y="457.80" width="5" height="20.80" fill="#2ebd85"/>
<rect x="697" y="350.80" width="1" height="111.80" fill="#2ebd85"/>
<rect x="695" y="362.90" width="5" height="94.90" fill="#2ebd85"/>
<rect x="703" y="321.40" width="1" height="50.10" fill="#2ebd85"/>
<rect x="701" y="338.00" width="5" height="24.90" fill="#2ebd85"/>
<rect x="709" y="319.80" width="1" height="43.10" fill="#2ebd85"/>
<rect x="707" y="336.00" width="5" height="2.00" fill="#2ebd85"/>
<rect x="715" y="296.20" width="1" height="70.30" fill="#f6465d"/>
<rect x="713" y="336.00" width="5" height="20.90" fill="#f6465d"/>
<rect x="721" y="325.00" width="1" height="55.00" fill="#f6465d"/>
<rect x="719" y="356.90" width="5" height="20.80" fill="#f6465d"/>
<rect x="727" y="370.00" width="1" height="42.80" fill="#f6465d"/>
<rect x="725" y="377.70" width="5" height="28.70" fill="#f6465d"/>
<rect x="733" y="350.50" width="1" height="68.70" fill="#2ebd85"/>
<rect x="731" y="358.50" width="5" height="47.90" fill="#2ebd85"/>
<rect x="739" y="350.50" width="1" height="77.60" fill="#f6465d"/>
<rect x="737" y="358.50" width="5" height="56.90" fill="#f6465d"/>
<rect x="746" y="398.40" width="1" height="25.60" fill="#2ebd85"/>
<rect x="744" y="414.40" width="5" height="1.00" fill="#2ebd85"/>
<rect x="752" y="389.80" width="1" height="26.70" fill="#2ebd85"/>
<rect x="750" y="399.40" width="5" height="15.00" fill="#2ebd85"/>
<rect x="758" y="350.50" width="1" height="57.50" fill="#2ebd85"/>
<rect x="756" y="362.70" width="5" height="36.70" fill="#2ebd85"/>
<rect x="764" y="355.00" width="1" height="51.40" fill="#f6465d"/>
<rect x="762" y="362.70" width="5" height="34.10" fill="#f6465d"/>
<rect x="770" y="273.20" width="1" height="128.40" fill="#2ebd85"/>
<rect x="768" y="279.10" width="5" height="117.70" fill="#2ebd85"/>
<rect x="776" y="266.00" width="1" height="54.20" fill="#f6465d"/>
<rect x="774" y="279.10" width="5" height="25.10" fill="#f6465d"/>
<rect x="782" y="249.20" width="1" height="56.80" fill="#2ebd85"/>
<rect x="780" y="259.50" width="5" height="44.70" fill="#2ebd85"/>
<rect x="788" y="250.00" width="1" height="19.90" fill="#f6465d"/>
<rect x="786" y="259.50" width="5" height="3.20" fill="#f6465d"/>
<rect x="794" y="241.80" width="1" height="46.90" fill="#f6465d"/>
<rect x="792" y="262.70" width="5" height="17.10" fill="#f6465d"/>
<rect x="801" y="144.90" width="1" height="136.10" fill="#2ebd85"/>
<rect x="799" y="149.40" width="5" height="130.40" fill="#2ebd85"/>
<rect x="807" y="136.00" width="1" height="70.30" fill="#f6465d"/>
<rect x="805" y="149.40" width="5" height="32.90" fill="#f6465d"/>
<rect x="813" y="169.50" width="1" height="45.70" fill="#f6465d"/>
<rect x="811" y="182.30" width="5" height="25.60" fill="#f6465d"/>
<rect x="819" y="185.50" width="1" height="94.50" fill="#f6465d"/>
<rect x="817" y="207.90" width="5" height="29.70" fill="#f6465d"/>
<rect x="825" y="206.30" width="1" height="62.30" fill="#2ebd85"/>
<rect x="823" y="222.90" width="5" height="14.70" fill="#2ebd85"/>
<rect x="831" y="196.00" width="1" height="31.00" fill="#2ebd85"/>
<rect x="829" y="204.70" width="5" height="18.20" fill="#2ebd85"/>
<rect x="837" y="200.00" width="1" height="33.40" fill="#f6465d"/>
<rect x="835" y="204.70" width="5" height="20.10" fill="#f6465d"/>
<rect x="843" y="170.50" width="1" height="58.10" fill="#2ebd85"/>
<rect x="841" y="201.50" width="5" height="23.30" fill="#2ebd85"/>
<rect x="849" y="197.30" width="1" height="32.90" fill="#f6465d"/>
<rect x="847" y="201.50" width="5" height="25.50" fill="#f6465d"/>
<rect x="855" y="220.00" width="1" height="36.70" fill="#f6465d"/>
<rect x="853" y="227.00" width="5" height="20.20" fill="#f6465d"/>
<rect x="862" y="198.30" width="1" height="59.10" fill="#2ebd85"/>
<rect x="860" y="227.00" width="5" height="20.20" fill="#2ebd85"/>
<rect x="868" y="210.00" width="1" height="58.60" fill="#f6465d"/>
<rect x="866" y="227.00" width="5" height="22.40" fill="#f6465d"/>
<rect x="874" y="240.00" width="1" height="12.00" fill="#2ebd85"/>
<rect x="872" y="244.00" width="5" height="5.40" fill="#2ebd85"/>
<rect x="880" y="225.40" width="1" height="27.20" fill="#2ebd85"/>
<rect x="878" y="241.40" width="5" height="2.60" fill="#2ebd85"/>
<rect x="886" y="177.50" width="1" height="67.70" fill="#2ebd85"/>
<rect x="884" y="215.80" width="5" height="25.60" fill="#2ebd85"/>
<rect x="892" y="158.30" width="1" height="59.70" fill="#2ebd85"/>
<rect x="890" y="171.80" width="5" height="44.00" fill="#2ebd85"/>
<rect x="898" y="142.40" width="1" height="39.90" fill="#2ebd85"/>
<rect x="896" y="158.30" width="5" height="13.50" fill="#2ebd85"/>
<rect x="904" y="145.60" width="1" height="38.40" fill="#f6465d"/>
<rect x="902" y="158.30" width="5" height="8.00" fill="#f6465d"/>
<rect x="910" y="136.00" width="1" height="89.40" fill="#f6465d"/>
<rect x="908" y="166.30" width="5" height="37.40" fill="#f6465d"/>
<rect x="916" y="198.00" width="1" height="10.00" fill="#f6465d"/>
<rect x="914" y="203.70" width="5" height="1.00" fill="#f6465d"/>
<rect x="923" y="188.70" width="1" height="19.20" fill="#2ebd85"/>
<rect x="921" y="195.10" width="5" height="9.60" fill="#2ebd85"/>
<rect x="929" y="181.30" width="1" height="25.70" fill="#f6465d"/>
<rect x="927" y="195.10" width="5" height="3.20" fill="#f6465d"/>
<rect x="935" y="196.00" width="1" height="87.00" fill="#f6465d"/>
<rect x="933" y="198.30" width="5" height="55.20" fill="#f6465d"/>
<rect x="941" y="184.90" width="1" height="80.50" fill="#2ebd85"/>
<rect x="939" y="229.30" width="5" height="24.20" fill="#2ebd85"/>
<rect x="947" y="226.00" width="1" height="52.70" fill="#f6465d"/>
<rect x="945" y="229.30" width="5" height="38.30" fill="#f6465d"/>
<rect x="953" y="252.00" width="1" height="56.80" fill="#f6465d"/>
<rect x="951" y="267.60" width="5" height="18.10" fill="#f6465d"/>
<rect x="959" y="274.20" width="1" height="15.60" fill="#2ebd85"/>
<rect x="957" y="281.40" width="5" height="4.30" fill="#2ebd85"/>
<rect x="965" y="262.70" width="1" height="21.80" fill="#2ebd85"/>
<rect x="963" y="269.10" width="5" height="12.30" fill="#2ebd85"/>
<rect x="971" y="254.10" width="1" height="54.70" fill="#f6465d"/>
<rect x="969" y="269.10" width="5" height="4.30" fill="#f6465d"/>
<rect x="978" y="271.10" width="1" height="51.10" fill="#f6465d"/>
<rect x="976" y="273.50" width="5" height="18.80" fill="#f6465d"/>
<line x1="0" y1="293.5" x2="1399" y2="293.5" stroke="#f6465d" stroke-width="1" stroke-dasharray="1 2"/>
<line x1="1201.3" y1="97" x2="1368" y2="514.4" stroke="#868993" stroke-width="2" stroke-dasharray="9.6 12.3"/>
<ellipse cx="968.5" cy="279.3" rx="28.5" ry="18.8" transform="rotate(-9 968.5 279.3)" fill="none" stroke="#00bcd4" stroke-width="3.3"/>
</g>
<g clip-path="url(#cs)">
<rect x="0" y="639.3" width="1399" height="69.0" fill="rgba(33,150,243,0.1)"/>
<line x1="0" y1="639.3" x2="1399" y2="639.3" stroke="#787b86" stroke-width="1" stroke-dasharray="4 4"/>
<line x1="0" y1="708.3" x2="1399" y2="708.3" stroke="#787b86" stroke-width="1" stroke-dasharray="4 4"/>
<polyline points="-4.9,649.5 1.2,646.6 7.3,643.0 13.5,654.0 19.6,679.7 25.7,704.3 31.8,719.8 37.9,722.1 44.0,716.1 50.1,713.0 56.2,715.0 62.3,721.0 68.4,723.5 74.5,724.9 80.6,724.7 86.7,724.3 92.8,720.4 98.9,701.1 105.0,673.6 111.1,646.1 117.2,629.6 123.3,618.0 129.5,618.0 135.6,626.1 141.7,628.2 147.8,627.0 153.9,627.1 160.0,630.2 166.1,634.2 172.2,633.1 178.3,627.3 184.4,620.8 190.5,617.2 196.6,616.3 202.7,616.3 208.8,617.2 214.9,618.1 221.0,619.0 227.1,618.1 233.2,618.8 239.3,620.7 245.4,626.0 251.6,630.8 257.7,639.3 263.8,655.4 269.9,680.5 276.0,705.1 282.1,716.4 288.2,708.4 294.3,685.8 300.4,656.4 306.5,636.8 312.6,630.4 318.7,637.9 324.8,644.6 330.9,646.0 337.0,649.0 343.1,657.4 349.2,675.1 355.3,685.2 361.4,690.2 367.5,688.6 373.6,686.6 379.8,684.1 385.9,678.5 392.0,680.0 398.1,687.5 404.2,704.9 410.3,717.4 416.4,722.7 422.5,720.8 428.6,717.2 434.7,715.2 440.8,712.0 446.9,713.0 453.0,713.4 459.1,711.2 465.2,702.8 471.3,693.1 477.4,683.3 483.5,671.3 489.6,657.1 495.8,642.8 501.9,636.1 508.0,644.0 514.1,667.5 520.2,692.3 526.3,702.3 532.4,695.0 538.5,683.3 544.6,668.9 550.7,661.0 556.8,653.3 562.9,657.5 569.0,665.9 575.1,684.3 581.2,702.4 587.3,716.4 593.4,720.9 599.5,724.0 605.6,723.1 611.7,719.7 617.9,707.9 624.0,697.2 630.1,683.8 636.2,672.4 642.3,662.8 648.4,661.2 654.5,666.1 660.6,672.0 666.7,678.9 672.8,681.9 678.9,689.2 685.0,697.5 691.1,711.6 697.2,711.0 703.3,694.8 709.4,664.3 715.5,642.5 721.6,633.9 727.7,639.1 733.8,644.0 740.0,649.2 746.1,649.8 752.2,654.3 758.3,651.8 764.4,647.4 770.5,636.6 776.6,632.8 782.7,627.8 788.8,627.0 794.9,623.7 801.0,623.6 807.1,625.0 813.2,628.5 819.3,637.6 825.4,647.6 831.5,656.5 837.6,660.4 843.7,661.4 849.8,669.6 855.9,684.0 862.1,704.5 868.2,717.8 874.3,723.8 880.4,725.0 886.5,720.4 892.6,704.2 898.7,674.8 904.8,644.9 910.9,636.5 917.0,649.5 923.1,674.4 929.2,689.4 935.3,698.1 941.4,702.6 947.5,712.0 953.6,718.1 959.7,724.8 965.8,725.4 971.9,724.6 978.0,721.8" fill="none" stroke="#ff6d00" stroke-width="1.2" stroke-linejoin="round"/>
<polyline points="-4.9,633.8 1.2,635.6 7.3,657.4 13.5,682.5 19.6,707.6 25.7,729.3 31.8,723.1 37.9,715.8 44.0,708.9 50.1,712.6 56.2,718.7 62.3,724.8 68.4,725.6 74.5,726.2 80.6,724.8 86.7,721.7 92.8,713.2 98.9,679.2 105.0,645.2 111.1,617.4 117.2,617.9 123.3,621.1 129.5,627.3 135.6,629.8 141.7,627.5 147.8,623.8 153.9,630.1 160.0,636.6 166.1,635.8 172.2,627.0 178.3,619.1 184.4,616.3 190.5,616.3 196.6,616.3 202.7,616.3 208.8,619.0 214.9,619.0 221.0,619.0 227.1,616.3 233.2,621.1 239.3,624.6 245.4,632.4 251.6,635.5 257.7,650.0 263.8,680.6 269.9,710.9 276.0,723.7 282.1,714.7 288.2,686.7 294.3,655.9 300.4,626.6 306.5,627.8 312.6,636.8 318.7,649.2 324.8,647.9 330.9,640.9 337.0,658.3 343.1,673.0 349.2,694.2 355.3,688.5 361.4,688.0 367.5,689.3 373.6,682.6 379.8,680.4 385.9,672.6 392.0,686.9 398.1,703.1 404.2,724.6 410.3,724.6 416.4,718.9 422.5,718.9 428.6,714.0 434.7,712.8 440.8,709.2 446.9,716.9 453.0,713.9 459.1,702.7 465.2,691.7 471.3,684.9 477.4,673.3 483.5,655.9 489.6,642.3 495.8,630.3 501.9,635.6 508.0,666.0 514.1,701.0 520.2,709.8 526.3,696.0 532.4,679.1 538.5,674.7 544.6,652.8 550.7,655.3 556.8,651.6 562.9,665.5 569.0,680.6 575.1,706.9 581.2,719.9 587.3,722.4 593.4,720.4 599.5,729.3 605.6,719.5 611.7,710.2 617.9,693.9 624.0,687.6 630.1,669.9 636.2,659.6 642.3,658.8 648.4,665.1 654.5,674.5 660.6,676.3 666.7,686.0 672.8,683.2 678.9,698.3 685.0,711.1 691.1,725.4 697.2,696.5 703.3,662.5 709.4,633.9 715.5,631.1 721.6,636.7 727.7,649.4 733.8,646.0 740.0,652.1 746.1,651.4 752.2,659.5 758.3,644.5 764.4,638.3 770.5,627.0 776.6,633.1 782.7,623.4 788.8,624.4 794.9,623.2 801.0,623.2 807.1,628.6 813.2,633.8 819.3,650.4 825.4,658.6 831.5,660.5 837.6,662.1 843.7,661.7 849.8,685.0 855.9,705.2 862.1,723.1 868.2,725.0 874.3,723.2 880.4,726.9 886.5,711.1 892.6,674.5 898.7,638.9 904.8,621.4 910.9,649.3 917.0,677.7 923.1,696.2 929.2,694.1 935.3,704.0 941.4,709.7 947.5,722.3 953.6,722.3 959.7,729.9 965.8,724.2 971.9,719.8 978.0,721.3" fill="none" stroke="#2196f3" stroke-width="1.2" stroke-linejoin="round"/>
<path d="M985,693.8 C975,696 966,701 961,710 C956,720 958,731 966,735.5 C975,740 992,739 1001,733 C1009,727 1009,712 1006.5,694" fill="none" stroke="#00bcd4" stroke-width="3.6" stroke-linecap="round"/>
<circle cx="991" cy="693.8" r="3.7" fill="#131722" stroke="#2962ff" stroke-width="1.5"/>
<circle cx="1002.2" cy="689.3" r="3.7" fill="#131722" stroke="#2962ff" stroke-width="1.5"/>
</g>
<g clip-path="url(#cv)">
<rect x="-1" y="757" width="5" height="44" fill="#1f6b5d"/>
<rect x="5" y="764" width="5" height="37" fill="#8b3a45"/>
<rect x="11" y="764" width="5" height="37" fill="#8b3a45"/>
<rect x="17" y="779" width="5" height="22" fill="#1f6b5d"/>
<rect x="23" y="780" width="5" height="21" fill="#8b3a45"/>
<rect x="29" y="779" width="5" height="22" fill="#1f6b5d"/>
<rect x="35" y="784" width="5" height="17" fill="#1f6b5d"/>
<rect x="41" y="774.5" width="5" height="26.5" fill="#8b3a45"/>
<rect x="48" y="767" width="5" height="34" fill="#8b3a45"/>
<rect x="54" y="766.4" width="5" height="34.60000000000002" fill="#1f6b5d"/>
<rect x="60" y="792" width="5" height="9" fill="#1f6b5d"/>
<rect x="66" y="795" width="5" height="6" fill="#8b3a45"/>
<rect x="72" y="763" width="5" height="38" fill="#8b3a45"/>
<rect x="78" y="774" width="5" height="27" fill="#1f6b5d"/>
<rect x="84" y="780" width="5" height="21" fill="#1f6b5d"/>
<rect x="90" y="776" width="5" height="25" fill="#8b3a45"/>
<rect x="96" y="770" width="5" height="31" fill="#1f6b5d"/>
<rect x="103" y="787" width="5" height="14" fill="#1f6b5d"/>
<rect x="109" y="780" width="5" height="21" fill="#8b3a45"/>
<rect x="115" y="777" width="5" height="24" fill="#1f6b5d"/>
<rect x="121" y="775" width="5" height="26" fill="#8b3a45"/>
<rect x="127" y="782" width="5" height="19" fill="#8b3a45"/>
<rect x="133" y="786" width="5" height="15" fill="#1f6b5d"/>
<rect x="139" y="783" width="5" height="18" fill="#1f6b5d"/>
<rect x="145" y="796" width="5" height="5" fill="#8b3a45"/>
<rect x="151" y="795" width="5" height="6" fill="#8b3a45"/>
<rect x="157" y="787" width="5" height="14" fill="#1f6b5d"/>
<rect x="164" y="788" width="5" height="13" fill="#1f6b5d"/>
<rect x="170" y="786" width="5" height="15" fill="#1f6b5d"/>
<rect x="176" y="787" width="5" height="14" fill="#1f6b5d"/>
<rect x="182" y="772" width="5" height="29" fill="#1f6b5d"/>
<rect x="188" y="793" width="5" height="8" fill="#1f6b5d"/>
<rect x="194" y="792" width="5" height="9" fill="#1f6b5d"/>
<rect x="200" y="781" width="5" height="20" fill="#1f6b5d"/>
<rect x="206" y="782" width="5" height="19" fill="#8b3a45"/>
<rect x="212" y="782" width="5" height="19" fill="#1f6b5d"/>
<rect x="219" y="784" width="5" height="17" fill="#1f6b5d"/>
<rect x="225" y="782" width="5" height="19" fill="#1f6b5d"/>
<rect x="231" y="792" width="5" height="9" fill="#8b3a45"/>
<rect x="237" y="794" width="5" height="7" fill="#1f6b5d"/>
<rect x="243" y="794" width="5" height="7" fill="#8b3a45"/>
<rect x="249" y="784" width="5" height="17" fill="#1f6b5d"/>
<rect x="255" y="787" width="5" height="14" fill="#8b3a45"/>
<rect x="261" y="787" width="5" height="14" fill="#8b3a45"/>
<rect x="267" y="788" width="5" height="13" fill="#8b3a45"/>
<rect x="273" y="796" width="5" height="5" fill="#1f6b5d"/>
<rect x="280" y="796" width="5" height="5" fill="#1f6b5d"/>
<rect x="286" y="781" width="5" height="20" fill="#1f6b5d"/>
<rect x="292" y="773" width="5" height="28" fill="#1f6b5d"/>
<rect x="298" y="767" width="5" height="34" fill="#1f6b5d"/>
<rect x="304" y="774" width="5" height="27" fill="#8b3a45"/>
<rect x="310" y="784" width="5" height="17" fill="#1f6b5d"/>
<rect x="316" y="792" width="5" height="9" fill="#8b3a45"/>
<rect x="322" y="794" width="5" height="7" fill="#1f6b5d"/>
<rect x="328" y="773" width="5" height="28" fill="#1f6b5d"/>
<rect x="335" y="748" width="5" height="53" fill="#8b3a45"/>
<rect x="341" y="767" width="5" height="34" fill="#1f6b5d"/>
<rect x="347" y="782" width="5" height="19" fill="#1f6b5d"/>
<rect x="353" y="760" width="5" height="41" fill="#1f6b5d"/>
<rect x="359" y="790" width="5" height="11" fill="#1f6b5d"/>
<rect x="365" y="786" width="5" height="15" fill="#1f6b5d"/>
<rect x="371" y="764" width="5" height="37" fill="#1f6b5d"/>
<rect x="377" y="778" width="5" height="23" fill="#8b3a45"/>
<rect x="383" y="782" width="5" height="19" fill="#1f6b5d"/>
<rect x="389" y="780" width="5" height="21" fill="#8b3a45"/>
<rect x="396" y="755" width="5" height="46" fill="#8b3a45"/>
<rect x="402" y="784" width="5" height="17" fill="#8b3a45"/>
<rect x="408" y="787" width="5" height="14" fill="#1f6b5d"/>
<rect x="414" y="785" width="5" height="16" fill="#8b3a45"/>
<rect x="420" y="755" width="5" height="46" fill="#8b3a45"/>
<rect x="426" y="749" width="5" height="52" fill="#1f6b5d"/>
<rect x="432" y="771" width="5" height="30" fill="#8b3a45"/>
<rect x="438" y="770" width="5" height="31" fill="#8b3a45"/>
<rect x="444" y="783" width="5" height="18" fill="#1f6b5d"/>
<rect x="451" y="786" width="5" height="15" fill="#1f6b5d"/>
<rect x="457" y="782" width="5" height="19" fill="#1f6b5d"/>
<rect x="463" y="789" width="5" height="12" fill="#1f6b5d"/>
<rect x="469" y="787" width="5" height="14" fill="#8b3a45"/>
<rect x="475" y="792" width="5" height="9" fill="#1f6b5d"/>
<rect x="481" y="791" width="5" height="10" fill="#8b3a45"/>
<rect x="487" y="796" width="5" height="5" fill="#8b3a45"/>
<rect x="493" y="794" width="5" height="7" fill="#1f6b5d"/>
<rect x="499" y="791" width="5" height="10" fill="#8b3a45"/>
<rect x="505" y="784" width="5" height="17" fill="#8b3a45"/>
<rect x="512" y="789" width="5" height="12" fill="#1f6b5d"/>
<rect x="518" y="792" width="5" height="9" fill="#1f6b5d"/>
<rect x="524" y="792" width="5" height="9" fill="#8b3a45"/>
<rect x="530" y="796" width="5" height="5" fill="#1f6b5d"/>
<rect x="536" y="796" width="5" height="5" fill="#1f6b5d"/>
<rect x="542" y="789" width="5" height="12" fill="#1f6b5d"/>
<rect x="548" y="790" width="5" height="11" fill="#8b3a45"/>
<rect x="554" y="789" width="5" height="12" fill="#1f6b5d"/>
<rect x="560" y="787" width="5" height="14" fill="#8b3a45"/>
<rect x="567" y="784" width="5" height="17" fill="#8b3a45"/>
<rect x="573" y="775" width="5" height="26" fill="#8b3a45"/>
<rect x="579" y="778" width="5" height="23" fill="#1f6b5d"/>
<rect x="585" y="781" width="5" height="20" fill="#8b3a45"/>
<rect x="591" y="785" width="5" height="16" fill="#1f6b5d"/>
<rect x="597" y="786" width="5" height="15" fill="#8b3a45"/>
<rect x="603" y="785" width="5" height="16" fill="#1f6b5d"/>
<rect x="609" y="779" width="5" height="22" fill="#1f6b5d"/>
<rect x="615" y="792" width="5" height="9" fill="#1f6b5d"/>
<rect x="621" y="793" width="5" height="8" fill="#8b3a45"/>
<rect x="628" y="789" width="5" height="12" fill="#1f6b5d"/>
<rect x="634" y="790" width="5" height="11" fill="#8b3a45"/>
<rect x="640" y="788" width="5" height="13" fill="#8b3a45"/>
<rect x="646" y="787" width="5" height="14" fill="#1f6b5d"/>
<rect x="652" y="790" width="5" height="11" fill="#8b3a45"/>
<rect x="658" y="792" width="5" height="9" fill="#8b3a45"/>
<rect x="664" y="794" width="5" height="7" fill="#8b3a45"/>
<rect x="670" y="789" width="5" height="12" fill="#1f6b5d"/>
<rect x="676" y="778" width="5" height="23" fill="#8b3a45"/>
<rect x="683" y="755" width="5" height="46" fill="#8b3a45"/>
<rect x="689" y="775" width="5" height="26" fill="#1f6b5d"/>
<rect x="695" y="776" width="5" height="25" fill="#1f6b5d"/>
<rect x="701" y="783" width="5" height="18" fill="#1f6b5d"/>
<rect x="707" y="787" width="5" height="14" fill="#1f6b5d"/>
<rect x="713" y="776" width="5" height="25" fill="#8b3a45"/>
<rect x="719" y="780" width="5" height="21" fill="#8b3a45"/>
<rect x="725" y="778" width="5" height="23" fill="#8b3a45"/>
<rect x="731" y="782" width="5" height="19" fill="#1f6b5d"/>
<rect x="737" y="781" width="5" height="20" fill="#8b3a45"/>
<rect x="744" y="793" width="5" height="8" fill="#1f6b5d"/>
<rect x="750" y="793" width="5" height="8" fill="#1f6b5d"/>
<rect x="756" y="783" width="5" height="18" fill="#1f6b5d"/>
<rect x="762" y="783" width="5" height="18" fill="#8b3a45"/>
<rect x="768" y="773" width="5" height="28" fill="#1f6b5d"/>
<rect x="774" y="780" width="5" height="21" fill="#8b3a45"/>
<rect x="780" y="784" width="5" height="17" fill="#1f6b5d"/>
<rect x="786" y="792" width="5" height="9" fill="#8b3a45"/>
<rect x="792" y="792" width="5" height="9" fill="#8b3a45"/>
<rect x="799" y="770" width="5" height="31" fill="#1f6b5d"/>
<rect x="805" y="775" width="5" height="26" fill="#8b3a45"/>
<rect x="811" y="789" width="5" height="12" fill="#8b3a45"/>
<rect x="817" y="784" width="5" height="17" fill="#8b3a45"/>
<rect x="823" y="783" width="5" height="18" fill="#1f6b5d"/>
<rect x="829" y="795" width="5" height="6" fill="#1f6b5d"/>
<rect x="835" y="795" width="5" height="6" fill="#8b3a45"/>
<rect x="841" y="789" width="5" height="12" fill="#1f6b5d"/>
<rect x="847" y="786" width="5" height="15" fill="#8b3a45"/>
<rect x="853" y="790" width="5" height="11" fill="#8b3a45"/>
<rect x="860" y="787" width="5" height="14" fill="#1f6b5d"/>
<rect x="866" y="788" width="5" height="13" fill="#8b3a45"/>
<rect x="872" y="796" width="5" height="5" fill="#1f6b5d"/>
<rect x="878" y="795" width="5" height="6" fill="#1f6b5d"/>
<rect x="884" y="788" width="5" height="13" fill="#1f6b5d"/>
<rect x="890" y="781" width="5" height="20" fill="#1f6b5d"/>
<rect x="896" y="776" width="5" height="25" fill="#1f6b5d"/>
<rect x="902" y="785" width="5" height="16" fill="#8b3a45"/>
<rect x="908" y="777" width="5" height="24" fill="#8b3a45"/>
<rect x="914" y="795" width="5" height="6" fill="#8b3a45"/>
<rect x="921" y="796" width="5" height="5" fill="#1f6b5d"/>
<rect x="927" y="787" width="5" height="14" fill="#8b3a45"/>
<rect x="933" y="771" width="5" height="30" fill="#8b3a45"/>
<rect x="939" y="773" width="5" height="28" fill="#1f6b5d"/>
<rect x="945" y="778" width="5" height="23" fill="#8b3a45"/>
<rect x="951" y="777" width="5" height="24" fill="#8b3a45"/>
<rect x="957" y="794" width="5" height="7" fill="#1f6b5d"/>
<rect x="963" y="795" width="5" height="6" fill="#1f6b5d"/>
<rect x="969" y="777" width="5" height="24" fill="#8b3a45"/>
<rect x="976" y="791" width="5" height="10" fill="#8b3a45"/>
</g>
<g fill="#2b2f36"><rect x="0" y="43" width="1399" height="1"/><rect x="0" y="606.5" width="1399" height="1"/><rect x="0" y="741" width="1399" height="1"/><rect x="0" y="801" width="1399" height="1"/></g>
<rect x="958.3" y="802" width="50" height="12" fill="#1d2a57"/>
<text x="8.9" y="19.2" font-size="17.5" fill="#eaecef" textLength="95.7" lengthAdjust="spacingAndGlyphs" font-weight="bold" >BTC/USDC</text>
<text x="113.2" y="16.6" font-size="12" fill="#9ca3af" textLength="105.5" lengthAdjust="spacingAndGlyphs" >Cours pour : Bitcoin</text>
<rect x="113.2" y="17.3" width="105.5" height="0.9" fill="#9ca3af"/>
<rect x="8" y="28" width="201.6" height="15" rx="3" fill="rgba(240,185,11,0.12)"/>
<text x="12.5" y="39.8" font-size="12" fill="#f0b90b" textLength="25.6" lengthAdjust="spacingAndGlyphs" stroke="#f0b90b" stroke-width="0.45">POW</text>
<text x="44" y="39.3" font-size="10" fill="#6b5d2a" >·</text>
<text x="52.3" y="39.8" font-size="12" fill="#f0b90b" textLength="53.7" lengthAdjust="spacingAndGlyphs" stroke="#f0b90b" stroke-width="0.45">En hausse</text>
<text x="111.5" y="39.3" font-size="10" fill="#6b5d2a" >·</text>
<text x="120" y="39.8" font-size="12" fill="#f0b90b" textLength="64.4" lengthAdjust="spacingAndGlyphs" stroke="#f0b90b" stroke-width="0.45">Taker Fee ...</text>
<text x="197.3" y="39.8" font-size="12" fill="#f0b90b" textLength="4.5" lengthAdjust="spacingAndGlyphs" stroke="#f0b90b" stroke-width="0.45">›</text>
<text x="255.7" y="25.4" font-size="12.5" fill="#a4abb8" textLength="16.1" lengthAdjust="spacingAndGlyphs" stroke="#a4abb8" stroke-width="0.3">3m</text>
<text x="288.3" y="25.4" font-size="12.5" fill="#a4abb8" textLength="16.7" lengthAdjust="spacingAndGlyphs" stroke="#a4abb8" stroke-width="0.3">5m</text>
<text x="321.8" y="25.4" font-size="12.5" fill="#a4abb8" textLength="22.5" lengthAdjust="spacingAndGlyphs" stroke="#a4abb8" stroke-width="0.3">15m</text>
<text x="361.4" y="25.4" font-size="12.5" fill="#a4abb8" textLength="12.3" lengthAdjust="spacingAndGlyphs" stroke="#a4abb8" stroke-width="0.3">1h</text>
<text x="390.4" y="25.4" font-size="12.5" fill="#a4abb8" textLength="12.9" lengthAdjust="spacingAndGlyphs" stroke="#a4abb8" stroke-width="0.3">4h</text>
<text x="419.1" y="25.4" font-size="12.5" fill="#a4abb8" textLength="12.9" lengthAdjust="spacingAndGlyphs" stroke="#a4abb8" stroke-width="0.3">8h</text>
<text x="449.8" y="25.4" font-size="12.5" fill="#f0b90b" textLength="11.4" lengthAdjust="spacingAndGlyphs" stroke="#f0b90b" stroke-width="0.3">1J</text>
<text x="477.7" y="25.4" font-size="12.5" fill="#a4abb8" textLength="15.6" lengthAdjust="spacingAndGlyphs" stroke="#a4abb8" stroke-width="0.3">1 S</text>
<path d="M515.6,18.5 L523.1,18.5 L519.35,22.8 Z" fill="#848e9c"/>
<g fill="none" stroke="#8e939e" stroke-width="1.6"><path d="M561,14 V27 H574"/><path d="M563.5,23 L566,18 L569,21 L573.5,15.5"/></g><path d="M566.5,24.5 L569,21.8 L571.5,24.5 Z" fill="#8e939e"/>
<path d="M597,13.5 H609.2 V28.2 L606.8,26.2 L604.4,28.2 L602,26.2 L599.5,28.2 L597,26.2 Z" fill="#8e939e"/><g fill="#161a1e"><rect x="599.5" y="17" width="2.8" height="2.2"/><rect x="603.8" y="17" width="2.8" height="2.2"/><rect x="599.5" y="21" width="2.8" height="2.2"/><rect x="603.8" y="21" width="2.8" height="2.2"/></g>
<g fill="#8e939e"><rect x="633.6" y="14.5" width="1.4" height="13.5"/><rect x="631" y="18.5" width="6.5" height="6.5" rx="1"/><rect x="642.6" y="13.8" width="1.4" height="14.6"/><rect x="640.2" y="16.5" width="6.4" height="9.5" rx="1"/><rect x="630.4" y="20" width="2" height="2"/></g>
<path d="M667.1,18 Q667.1,16.5 668.6,16.5 H670.8 L672.4,15 H677.4 L679,16.5 H681.1 Q682.6,16.5 682.6,18 V26.9 H667.1 Z" fill="#8e939e"/><circle cx="674.9" cy="21.3" r="2.1" fill="#161a1e"/>
<circle cx="710.8" cy="20.9" r="7.5" fill="#8e939e"/><path d="M710.8,16.3 V25.5 M706.2,20.9 H715.4" stroke="#161a1e" stroke-width="2"/>
<rect x="5" y="50" width="548" height="21" fill="rgba(22,26,30,0.55)"/>
<rect x="5" y="74" width="185" height="21" fill="rgba(22,26,30,0.55)"/>
<rect x="5" y="98" width="157" height="21" fill="rgba(22,26,30,0.55)"/>
<rect x="5" y="121" width="435" height="22" fill="rgba(22,26,30,0.55)"/>
<text x="9.75" y="65.6" font-size="14" fill="#8e939c" textLength="63.8" lengthAdjust="spacingAndGlyphs" >BTCUSDC</text>
<text x="87.5" y="65.6" font-size="14" fill="#8e939c" textLength="16.2" lengthAdjust="spacingAndGlyphs" >1D</text>
<text x="116.9" y="65.6" font-size="14" fill="#8e939c" textLength="55.0" lengthAdjust="spacingAndGlyphs" >Binance</text>
<rect x="79.1" y="59.8" width="2.4" height="2.3" fill="#a9adb5"/><rect x="109.4" y="59.8" width="2.4" height="2.3" fill="#a9adb5"/>
<text x="180.6" y="66" font-size="12.5" fill="#8e939c" >O</text>
<text x="190.9" y="66" font-size="12.5" fill="#f6465d" textLength="52.1" lengthAdjust="spacingAndGlyphs" >66467.53</text>
<text x="249.5" y="66" font-size="12.5" fill="#8e939c" >H</text>
<text x="258.7" y="66" font-size="12.5" fill="#f6465d" textLength="52.1" lengthAdjust="spacingAndGlyphs" >66563.34</text>
<text x="317.2" y="66" font-size="12.5" fill="#8e939c" >B</text>
<text x="325.3" y="66" font-size="12.5" fill="#f6465d" textLength="52.4" lengthAdjust="spacingAndGlyphs" >64510.00</text>
<text x="384.1" y="66" font-size="12.5" fill="#8e939c" >C</text>
<text x="393" y="66" font-size="12.5" fill="#f6465d" textLength="51.6" lengthAdjust="spacingAndGlyphs" >65711.13</text>
<text x="452.1" y="66" font-size="12.5" fill="#f6465d" textLength="44.1" lengthAdjust="spacingAndGlyphs" >−766.87</text>
<text x="501.8" y="66" font-size="12.5" fill="#f6465d" textLength="47.9" lengthAdjust="spacingAndGlyphs" >(−1.15%)</text>
<text x="9" y="89" font-size="12.5" fill="#a9adb5" textLength="115.0" lengthAdjust="spacingAndGlyphs" >MA 50 close 0 SMA 9</text>
<text x="133" y="89" font-size="12.5" fill="#f23645" textLength="51.4" lengthAdjust="spacingAndGlyphs" >66230.82</text>
<text x="9" y="113" font-size="12.5" fill="#62666f" textLength="122.0" lengthAdjust="spacingAndGlyphs" >MA 200 close 0 SMA 9</text>
<g fill="none" stroke="#b2b5be" stroke-width="1.3"><path d="M142.5,108 Q150,100.5 157.5,108 Q150,115.5 142.5,108 Z"/><circle cx="150" cy="108" r="2.3"/><path d="M144,114.5 L156,101.5"/></g>
<text x="9" y="136.7" font-size="12.5" fill="#a9adb5" textLength="132.5" lengthAdjust="spacingAndGlyphs" >Ichimoku 9 26 52 26 26</text>
<text x="150.5" y="136.7" font-size="12.5" fill="#ffeb3b" textLength="52.1" lengthAdjust="spacingAndGlyphs" stroke="#ffeb3b" stroke-width="0.5">67343.84</text>
<text x="209" y="136.7" font-size="12.5" fill="#2962ff" textLength="52.2" lengthAdjust="spacingAndGlyphs" >68250.00</text>
<text x="267.6" y="136.7" font-size="12.5" fill="#ba68c8" textLength="51.8" lengthAdjust="spacingAndGlyphs" >65711.13</text>
<text x="325.5" y="136.7" font-size="12.5" fill="#a5d6a7" textLength="52.5" lengthAdjust="spacingAndGlyphs" >67796.92</text>
<text x="384.4" y="136.7" font-size="12.5" fill="#ef9a9a" textLength="52.1" lengthAdjust="spacingAndGlyphs" >64250.00</text>
<rect x="10.1" y="146.8" width="27.5" height="19.4" rx="3" fill="#161a1e" stroke="#363a45" stroke-width="1"/><path d="M20,158.3 L23.85,154.4 L27.7,158.3" fill="none" stroke="#d1d4dc" stroke-width="1.6"/>
<text x="1098.5" y="181.5" font-size="12" fill="#f23645" textLength="90.1" lengthAdjust="spacingAndGlyphs" >0.236 (69922.73)</text>
<text x="1098.5" y="244" font-size="12" fill="#ff9800" textLength="90.1" lengthAdjust="spacingAndGlyphs" >0.382 (67412.65)</text>
<text x="1111" y="295" font-size="12" fill="#4caf50" textLength="77.6" lengthAdjust="spacingAndGlyphs" >0.5 (65383.96)</text>
<text x="1098.5" y="345" font-size="12" fill="#089981" textLength="90.1" lengthAdjust="spacingAndGlyphs" >0.618 (63355.27)</text>
<text x="1098.5" y="417" font-size="12" fill="#00bcd4" textLength="90.1" lengthAdjust="spacingAndGlyphs" >0.786 (60466.96)</text>
<rect x="5" y="615" width="182" height="19" fill="rgba(22,26,30,0.55)"/>
<text x="8.75" y="628.7" font-size="12.5" fill="#a3a7b0" textLength="108.7" lengthAdjust="spacingAndGlyphs" >Stoch RSI 14 14 3 3</text>
<text x="127.5" y="628.7" font-size="12.5" fill="#2196f3" textLength="23.7" lengthAdjust="spacingAndGlyphs" >8.33</text>
<text x="158.75" y="628.7" font-size="12.5" fill="#ff6d00" textLength="23.7" lengthAdjust="spacingAndGlyphs" >7.97</text>
<rect x="5" y="752" width="117" height="17" fill="rgba(22,26,30,0.5)"/>
<circle cx="28.6" cy="772.4" r="16" fill="#131722" stroke="#2f333d" stroke-width="1"/>
<path d="M18.3,767.6 H28.6 V778.6 H24.1 V772 H18.3 Z" fill="#eceef2"/><circle cx="31.5" cy="769.5" r="2.1" fill="#eceef2"/><path d="M34.2,767.6 H39.2 L34.4,778.6 H29.6 Z" fill="#eceef2"/>
<text x="9" y="762.7" font-size="12.5" fill="#a3a7b0" textLength="79.5" lengthAdjust="spacingAndGlyphs" >Volume SMA 9</text>
<text x="97.2" y="762.7" font-size="12.5" fill="#f6465d" textLength="19.9" lengthAdjust="spacingAndGlyphs" >565</text>
<text x="31.8" y="819.3" font-size="12.5" fill="#848e9c" text-anchor="middle" >15</text>
<text x="135.6" y="819.3" font-size="12.5" fill="#848e9c" text-anchor="middle" >Févr</text>
<text x="221.0" y="819.3" font-size="12.5" fill="#848e9c" text-anchor="middle" >15</text>
<text x="312.6" y="819.3" font-size="12.5" fill="#848e9c" text-anchor="middle" >Mars</text>
<text x="398.1" y="819.3" font-size="12.5" fill="#848e9c" text-anchor="middle" >15</text>
<text x="501.9" y="819.3" font-size="12.5" fill="#848e9c" text-anchor="middle" >Avr</text>
<text x="587.3" y="819.3" font-size="12.5" fill="#848e9c" text-anchor="middle" >15</text>
<text x="685.0" y="819.3" font-size="12.5" fill="#848e9c" text-anchor="middle" >Mai</text>
<text x="770.5" y="819.3" font-size="12.5" fill="#848e9c" text-anchor="middle" >15</text>
<text x="874.3" y="819.3" font-size="12.5" fill="#848e9c" text-anchor="middle" >Juin</text>
<text x="959.7" y="819.3" font-size="12.5" fill="#848e9c" text-anchor="middle" >15</text>
<text x="1057.4" y="819.3" font-size="12.5" fill="#848e9c" text-anchor="middle" >Juil</text>
<text x="1142.9" y="819.3" font-size="12.5" fill="#848e9c" text-anchor="middle" >15</text>
<text x="1246.7" y="819.3" font-size="12.5" fill="#848e9c" text-anchor="middle" >Août</text>
<text x="1332.1" y="819.3" font-size="12.5" fill="#848e9c" text-anchor="middle" >15</text>
</svg>
</body></html>
